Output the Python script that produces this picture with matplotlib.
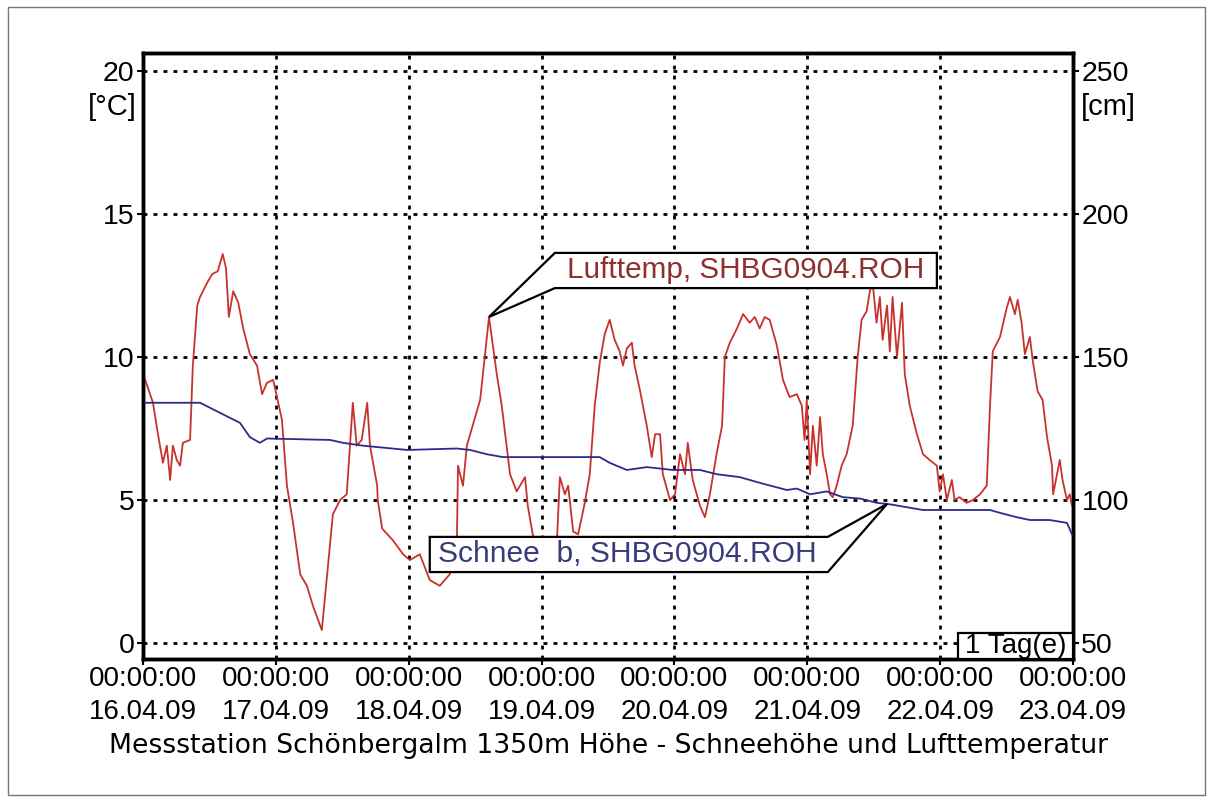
import numpy as np
import matplotlib.pyplot as plt
from matplotlib.patches import Polygon, Rectangle

# hours since 16.04.09 00:00
temp_hours = [0.4, 1.8, 2.7, 3.6, 4.3, 4.9, 5.4, 6.1, 6.7, 7.2, 8.5, 9.0, 9.8, 10.3, 11.6, 12.5,
              13.5, 14.4, 15.0, 15.5, 16.3, 17.2, 18.1, 19.3, 20.6, 21.5, 22.4, 23.5,
              24.2, 25.1, 25.6, 26.0, 27.1, 28.4, 29.6, 30.7, 32.3, 34.3, 35.6, 36.8, 37.9, 38.6,
              39.5, 40.5, 41.0, 42.3, 42.4, 43.2, 45.1, 47.0,
              48.2, 50.0, 51.8, 53.6, 55.4, 56.7, 56.9, 57.8, 58.5, 60.9, 62.5, 63.9, 64.8, 66.3,
              67.5, 69.0, 69.5, 70.4, 71.7,
              73.1, 74.8, 75.3, 76.2, 76.8, 77.7, 78.6, 79.8, 80.7, 81.6, 82.5, 83.4, 84.3, 85.2,
              86.1, 86.7, 87.4, 88.3, 88.8, 89.8, 91.0, 91.9, 92.5, 93.4, 93.9, 95.2,
              96.1, 97.0, 97.9, 98.4, 99.3, 100.6, 101.5, 102.4, 103.6, 104.6, 105.1, 106.0, 107.3,
              108.4, 109.6, 110.5, 111.4, 112.3, 113.2, 114.5, 115.6, 116.8, 118.1, 119.0,
              119.5, 119.9, 120.5, 121.0, 121.7, 122.3, 122.8, 123.5, 124.1, 124.6, 125.3, 126.2,
              127.1, 128.2, 129.1, 129.8, 130.7, 131.3, 131.8, 132.5, 133.1, 133.6, 134.4, 134.9,
              135.4, 136.2, 137.1, 137.6, 138.5, 139.8, 140.9, 142.1, 143.4,
              143.9, 144.5, 145.2, 146.1, 146.6, 147.5, 148.8, 149.9, 151.2, 152.4, 153.0, 153.5,
              154.8, 156.0, 156.6, 157.5, 158.0, 158.7, 159.3, 160.2, 160.7, 161.6, 162.5, 163.3,
              164.2, 164.4, 165.1, 165.6, 166.1, 166.9, 167.4, 167.8]
temp_vals = [9.2, 8.4, 7.3, 6.3, 6.9, 5.7, 6.9, 6.4, 6.2, 7.0, 7.1, 9.7, 11.8, 12.1, 12.6, 12.9,
             13.0, 13.6, 13.1, 11.4, 12.3, 11.9, 11.0, 10.1, 9.7, 8.7, 9.1, 9.2,
             8.6, 7.8, 6.5, 5.5, 4.2, 2.4, 2.0, 1.3, 0.45, 4.5, 5.0, 5.2, 8.4, 6.9,
             7.1, 8.4, 6.9, 5.5, 5.0, 4.0, 3.6, 3.1,
             2.9, 3.1, 2.2, 2.0, 2.4, 3.6, 6.2, 5.5, 6.9, 8.5, 11.4, 9.4, 8.3, 5.9,
             5.3, 5.8, 4.8, 3.8, 3.0,
             3.3, 3.7, 5.8, 5.2, 5.5, 3.9, 3.8, 4.9, 5.9, 8.3, 9.8, 10.8, 11.3, 10.6,
             10.2, 9.7, 10.3, 10.5, 9.7, 8.8, 7.6, 6.5, 7.3, 7.3, 5.9, 5.0,
             5.2, 6.6, 5.9, 7.0, 5.7, 4.8, 4.4, 5.2, 6.6, 7.6, 10.0, 10.5, 11.0,
             11.5, 11.2, 11.4, 11.0, 11.4, 11.3, 10.4, 9.2, 8.6, 8.7, 8.3,
             7.1, 8.5, 5.9, 7.6, 6.2, 7.9, 6.6, 5.9, 5.2, 5.1, 5.5, 6.2,
             6.6, 7.6, 10.0, 11.3, 11.6, 12.3, 12.6, 11.2, 12.1, 10.6, 11.8, 10.2,
             12.1, 10.0, 11.9, 9.4, 8.3, 7.3, 6.6, 6.4, 6.2,
             5.3, 5.9, 5.0, 5.7, 5.0, 5.1, 4.9, 5.0, 5.2, 5.5, 8.3, 10.2,
             10.7, 11.7, 12.1, 11.5, 12.0, 11.2, 10.1, 10.7, 9.9, 8.8, 8.5, 7.2,
             6.2, 5.2, 5.9, 6.4, 5.7, 5.0, 5.2, 4.8]

snow_hours = [0.4, 10.3, 14.4, 17.5, 19.3, 21.1, 22.4, 33.8, 36.1, 39.7, 47.7, 56.7, 59.1, 62.1,
              65.0, 73.5, 82.5, 84.3, 87.4, 91.0, 95.7, 100.6, 103.7, 107.8, 111.4, 116.3,
              118.1, 120.5, 123.5, 126.4, 129.5, 132.6, 134.9, 140.9, 153.0, 154.8, 157.8,
              160.2, 163.8, 166.9, 167.8]
snow_vals = [134, 134, 130, 127, 122, 120, 121.5, 121, 120, 119, 117.5, 118, 117.5, 116,
             115, 115, 115, 113, 110.5, 111.5, 110.5, 110.5, 109, 108, 106, 103.5,
             104, 102, 103, 101, 100.5, 99, 98.5, 96.5, 96.5, 95.5, 94,
             93, 93, 92, 88]

day_labels = ["16.04.09", "17.04.09", "18.04.09", "19.04.09", "20.04.09", "21.04.09",
              "22.04.09", "23.04.09"]
temp_ticks = [0, 5, 10, 15, 20]
snow_ticks = [50, 100, 150, 200, 250]

TEMP_COLOR = "#c8322d"
SNOW_COLOR = "#2b2b8c"

plt.rcParams['font.family'] = ['Liberation Sans', 'DejaVu Sans']

fig = plt.figure(figsize=(12.14, 8.02), dpi=100)
ax = fig.add_axes([0.1178, 0.1783, 0.7661, 0.7556])
ax2 = ax.twinx()

ax.plot(temp_hours, temp_vals, color=TEMP_COLOR, lw=1.3, zorder=3)
ax2.plot(snow_hours, snow_vals, color=SNOW_COLOR, lw=1.3, zorder=3)

ax.set_xlim(0, 168)
ax.set_ylim(-0.56, 20.63)
ax2.set_ylim(44.4, 256.3)

ax.set_xticks(np.arange(len(day_labels)) * 24)
ax.set_xticklabels([f"00:00:00\n{d}" for d in day_labels])
for lbl in ax.get_xticklabels():
    lbl.set_linespacing(1.35)
ax.set_yticks(temp_ticks)
ax2.set_yticks(snow_ticks)

ax.grid(True, color="black", linestyle=(0, (1.4, 2.2)), lw=2)
ax.set_axisbelow(True)

for a in (ax, ax2):
    for sp in a.spines.values():
        sp.set_linewidth(2.5)
        sp.set_color("black")
ax.tick_params(axis="both", direction="out", length=4, width=1.5, labelsize=20.5, colors="black")
ax.tick_params(axis="x", labelsize=20, pad=1)
ax.tick_params(axis="y", pad=2)
ax2.tick_params(axis="y", direction="out", length=4, width=1.5, labelsize=20.5, pad=2)

# unit labels
fig.text(137 / 1214, 1 - 107 / 802, "[°C]", ha="right", va="center", fontsize=21)
fig.text(1081 / 1214, 1 - 107 / 802, "[cm]", ha="left", va="center", fontsize=21)

# callout for air temperature (tip on the peak of 18.04)
win = [i for i, h in enumerate(temp_hours) if 50 < h < 70]
ip = max(win, key=lambda i: temp_vals[i])
tip = (temp_hours[ip], temp_vals[ip])
x0, x1, y0, y1 = 74.4, 143.4, 12.41, 13.64
ax2.add_patch(Polygon([(x0, y1), (x1, y1), (x1, y0), (x0, y0), tip], closed=True,
                      facecolor="white", edgecolor="black", lw=1.6,
                      transform=ax.transData, zorder=6))
ax2.text((x0 + x1) / 2, (y0 + y1) / 2 + 0.02, "Lufttemp, SHBG0904.ROH", color="#8e3030",
         ha="center", va="center", fontsize=21.4, transform=ax.transData, zorder=7)

# callout for snow height
sx = 134.4
stip = (sx, float(np.interp(sx, snow_hours, snow_vals)))
bx0, bx1, by0, by1 = 51.8, 123.7, 74.8, 87.1
ax2.add_patch(Polygon([(bx0, by1), (bx1, by1), stip, (bx1, by0), (bx0, by0)], closed=True,
                      facecolor="white", edgecolor="black", lw=1.6, zorder=6))
ax2.text((bx0 + bx1) / 2 - 0.3, (by0 + by1) / 2, "Schnee  b, SHBG0904.ROH", color="#3a3a7a",
         ha="center", va="center", fontsize=21.6, zorder=7)

# time scale box
ax2.add_patch(Rectangle((0.876, 0.0), 0.124, 0.043, transform=ax2.transAxes,
                        facecolor="white", edgecolor="black", lw=1.6, zorder=6))
ax2.text(0.938, 0.0215, "1 Tag(e)", transform=ax2.transAxes, ha="center", va="center",
         fontsize=20, zorder=7)

fig.text(609 / 1214, 1 - 746 / 802,
         "Messstation Schönbergalm 1350m Höhe - Schneehöhe und Lufttemperatur",
         ha="center", va="center", fontsize=19.2, family="DejaVu Sans")

fig.add_artist(Rectangle((8 / 1214, 7 / 802), 1197 / 1214, 788 / 802,
                         transform=fig.transFigure, fill=False, edgecolor="#777777", lw=1))

fig.savefig("out.png", dpi=100)
